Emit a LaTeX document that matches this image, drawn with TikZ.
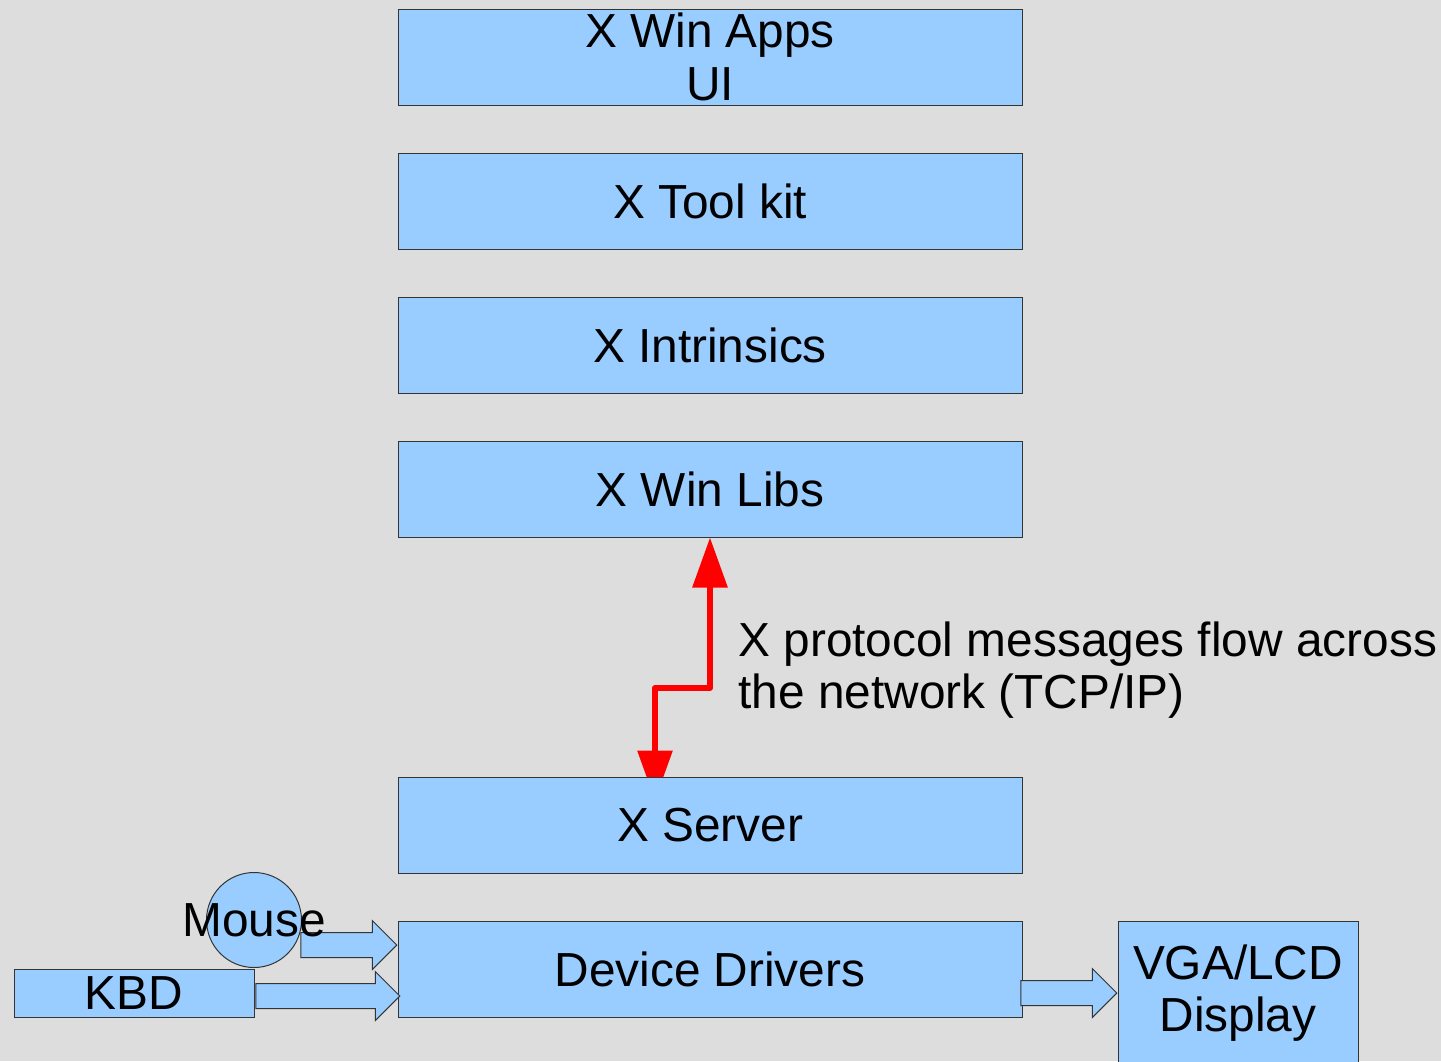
\documentclass[tikz,border=0pt]{standalone}
\usepackage{fontspec}
\setmainfont{Liberation Sans}
\usetikzlibrary{arrows.meta,positioning,shapes.arrows}
\definecolor{bgc}{RGB}{221,221,221}
\definecolor{boxc}{RGB}{153,204,255}
\definecolor{edgec}{RGB}{52,52,52}
\definecolor{flowc}{RGB}{255,0,0}
\pgfdeclarelayer{back}
\pgfsetlayers{back,main}

\begin{document}
\begin{tikzpicture}[x=0.5pt,y=-0.5pt,font=\fontsize{23.9}{26.2}\selectfont,
  xlayer/.style={draw=edgec,line width=0.5pt,fill=boxc,inner sep=0pt,minimum width=312pt,minimum height=48pt,align=center},
  devbox/.style={xlayer,minimum width=120pt},
  feed/.style={single arrow,draw=edgec,line width=0.5pt,fill=boxc,inner sep=6pt,single arrow head extend=6pt,single arrow tip angle=90,anchor=tip},
  xflow/.style={flowc,line width=3pt,line join=round,{Triangle[length=25pt,width=17pt]}-{Triangle[length=25pt,width=17pt]}}]
\useasboundingbox (0,0) rectangle (1441,1061);

% the software stack
\node[xlayer] (apps) at (710,57) {X Win Apps\\UI};
\node[xlayer] (toolkit) at (710,201) {X Tool kit};
\node[xlayer] (intrinsics) at (710,345) {X Intrinsics};
\node[xlayer] (libs) at (710,489) {X Win Libs};
\node[xlayer] (server) at (710,825) {X Server};
\node[xlayer] (drivers) at (710,969) {Device Drivers};

% devices
\node[devbox,minimum height=24pt] (kbd) at (134,993) {KBD};
\node[devbox,minimum height=72pt] (vga) at (1238,993) {VGA/LCD\\Display};
\node[feed,minimum height=48pt] (mfeed) at ([shift={(0,-24)}]drivers.west) {};
\node[feed,minimum height=72pt] (kfeed) at ([shift={(3,27)}]drivers.west) {};
\node[feed,minimum height=48pt] (dfeed) at (vga.west) {};
\node[circle,draw=edgec,line width=0.5pt,fill=boxc,minimum size=47.5pt,inner sep=0pt,label={center:Mouse}] (mouse) at (254,920) {};

\node[anchor=west,align=left,inner sep=0pt] (note) at (738,670) {X protocol messages flow across\\the network (TCP/IP)};

\begin{pgfonlayer}{back}
\fill[bgc] (0,0) rectangle (1441,1061);
% network link, its lower tip sits under the server box
\coordinate (bend) at (682,688);
\draw[xflow] (libs.south) |- (bend) -| ([shift={(-55,24)}]server.north);
\end{pgfonlayer}
\end{tikzpicture}
\end{document}
